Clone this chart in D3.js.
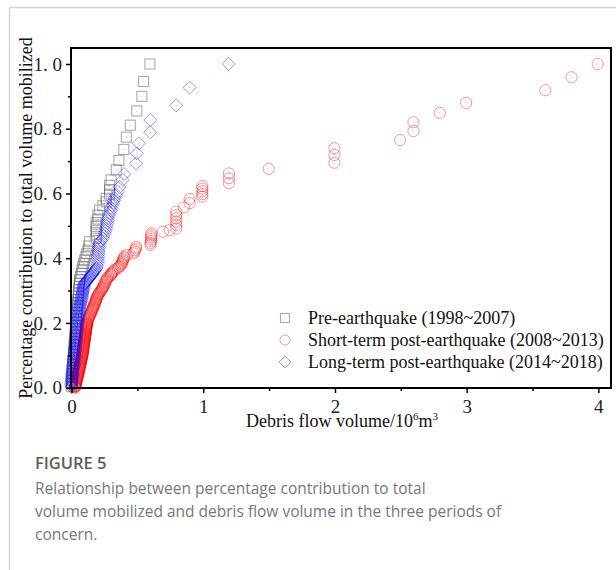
<!DOCTYPE html>
<html><head><meta charset="utf-8">
<script src="https://cdn.jsdelivr.net/npm/d3@7"></script>
<style>
html,body{margin:0;padding:0;background:#fff;}
svg{display:block;}
</style>
</head><body>
<svg id="chart" width="616" height="570"></svg>
<script>
// ---- data: [debris flow volume (10^6 m^3), cumulative share of total volume] ----
const preEarthquake = [
[0.000,0.003],[0.001,0.013],[0.002,0.023],[0.003,0.033],[0.005,0.043],[0.006,0.053],[0.008,0.063],[0.009,0.073],[0.011,0.083],[0.013,0.093],
[0.015,0.103],[0.017,0.113],[0.019,0.123],[0.021,0.133],[0.023,0.143],[0.025,0.153],[0.027,0.163],[0.029,0.173],[0.031,0.183],[0.033,0.193],
[0.035,0.203],[0.037,0.213],[0.039,0.223],[0.041,0.233],[0.043,0.243],[0.045,0.253],[0.047,0.263],[0.049,0.273],[0.051,0.283],[0.053,0.293],
[0.055,0.303],[0.057,0.313],[0.059,0.323],[0.061,0.333],[0.068,0.343],[0.074,0.353],[0.080,0.364],[0.086,0.374],[0.092,0.384],[0.099,0.394],
[0.108,0.404],[0.116,0.414],[0.124,0.425],[0.130,0.438],[0.137,0.451],[0.187,0.462],[0.187,0.474],[0.187,0.486],[0.187,0.498],[0.187,0.510],
[0.200,0.521],[0.200,0.533],[0.213,0.549],[0.238,0.562],[0.263,0.574],[0.263,0.585],[0.289,0.598],[0.289,0.611],[0.289,0.625],[0.300,0.642],
[0.340,0.673],[0.360,0.702],[0.397,0.736],[0.416,0.774],[0.446,0.811],[0.496,0.855],[0.534,0.900],[0.547,0.946],[0.595,1.000]
];
const shortTermPost = [
[0.026,0.000],[0.027,0.002],[0.028,0.004],[0.029,0.006],[0.031,0.008],[0.032,0.010],[0.033,0.012],[0.034,0.014],[0.035,0.016],[0.036,0.018],
[0.038,0.020],[0.039,0.022],[0.040,0.024],[0.041,0.026],[0.042,0.028],[0.043,0.030],[0.045,0.032],[0.046,0.034],[0.047,0.036],[0.048,0.038],
[0.049,0.040],[0.050,0.042],[0.052,0.044],[0.053,0.046],[0.054,0.048],[0.055,0.050],[0.056,0.052],[0.057,0.054],[0.058,0.056],[0.059,0.058],
[0.060,0.060],[0.061,0.062],[0.063,0.064],[0.064,0.066],[0.065,0.068],[0.066,0.070],[0.067,0.072],[0.068,0.074],[0.069,0.076],[0.070,0.078],
[0.071,0.080],[0.072,0.082],[0.073,0.084],[0.074,0.086],[0.076,0.088],[0.077,0.090],[0.078,0.092],[0.079,0.094],[0.080,0.096],[0.081,0.098],
[0.082,0.100],[0.083,0.102],[0.083,0.104],[0.084,0.106],[0.085,0.108],[0.086,0.110],[0.086,0.112],[0.087,0.114],[0.088,0.116],[0.088,0.118],
[0.089,0.120],[0.090,0.122],[0.091,0.124],[0.091,0.126],[0.092,0.128],[0.093,0.130],[0.093,0.132],[0.094,0.134],[0.095,0.136],[0.096,0.138],
[0.096,0.140],[0.097,0.142],[0.098,0.144],[0.098,0.146],[0.099,0.148],[0.100,0.150],[0.101,0.152],[0.101,0.154],[0.102,0.156],[0.103,0.158],
[0.104,0.160],[0.104,0.162],[0.105,0.164],[0.106,0.166],[0.106,0.168],[0.107,0.170],[0.108,0.172],[0.109,0.174],[0.109,0.176],[0.110,0.178],
[0.111,0.180],[0.111,0.182],[0.112,0.184],[0.113,0.186],[0.114,0.188],[0.114,0.190],[0.115,0.192],[0.116,0.194],[0.116,0.196],[0.117,0.198],
[0.118,0.200],[0.120,0.203],[0.122,0.206],[0.125,0.209],[0.128,0.212],[0.130,0.215],[0.133,0.218],[0.136,0.221],[0.140,0.224],[0.143,0.227],
[0.146,0.230],[0.150,0.233],[0.153,0.236],[0.156,0.239],[0.159,0.242],[0.162,0.245],[0.164,0.248],[0.166,0.251],[0.170,0.254],[0.174,0.257],
[0.178,0.260],[0.180,0.263],[0.182,0.266],[0.184,0.269],[0.187,0.272],[0.190,0.275],[0.192,0.278],[0.195,0.281],[0.198,0.284],[0.202,0.287],
[0.207,0.290],[0.212,0.293],[0.218,0.296],[0.223,0.299],[0.228,0.302],[0.232,0.305],[0.236,0.308],[0.240,0.311],[0.245,0.314],[0.250,0.318],
[0.250,0.322],[0.260,0.326],[0.260,0.330],[0.270,0.334],[0.270,0.338],[0.280,0.342],[0.290,0.345],[0.300,0.348],[0.300,0.351],[0.310,0.354],
[0.310,0.357],[0.320,0.361],[0.330,0.365],[0.350,0.369],[0.360,0.373],[0.370,0.377],[0.380,0.381],[0.380,0.385],[0.390,0.389],[0.390,0.393],
[0.390,0.397],[0.400,0.401],[0.400,0.405],[0.420,0.410],[0.470,0.415],[0.480,0.420],[0.480,0.425],[0.490,0.430],[0.490,0.435],[0.600,0.441],
[0.600,0.447],[0.605,0.453],[0.605,0.459],[0.605,0.465],[0.605,0.471],[0.605,0.477],[0.694,0.482],[0.745,0.487],[0.795,0.492],[0.795,0.503],
[0.795,0.513],[0.795,0.523],[0.795,0.533],[0.795,0.544],[0.853,0.557],[0.897,0.570],[0.897,0.583],[0.993,0.590],[0.993,0.598],[0.993,0.607],
[0.993,0.615],[0.993,0.623],[1.195,0.632],[1.195,0.647],[1.195,0.662],[1.497,0.676],[1.996,0.695],[1.996,0.719],[1.996,0.740],[2.495,0.765],
[2.596,0.793],[2.596,0.820],[2.796,0.849],[2.996,0.880],[3.597,0.919],[3.797,0.959],[3.995,1.000]
];
const longTermPost = [
[0.000,0.002],[0.000,0.006],[0.000,0.009],[0.001,0.013],[0.001,0.016],[0.001,0.020],[0.002,0.023],[0.003,0.027],[0.003,0.030],[0.004,0.034],
[0.005,0.037],[0.006,0.041],[0.006,0.044],[0.007,0.048],[0.008,0.051],[0.009,0.055],[0.010,0.058],[0.011,0.062],[0.012,0.065],[0.013,0.069],
[0.014,0.072],[0.015,0.076],[0.016,0.079],[0.017,0.083],[0.018,0.086],[0.019,0.090],[0.020,0.093],[0.021,0.097],[0.022,0.100],[0.023,0.104],
[0.023,0.107],[0.024,0.111],[0.025,0.114],[0.026,0.118],[0.027,0.121],[0.027,0.125],[0.028,0.128],[0.029,0.132],[0.030,0.135],[0.030,0.139],
[0.031,0.142],[0.032,0.146],[0.033,0.149],[0.034,0.153],[0.034,0.156],[0.035,0.160],[0.036,0.163],[0.037,0.167],[0.038,0.170],[0.039,0.174],
[0.039,0.177],[0.040,0.181],[0.041,0.184],[0.042,0.188],[0.043,0.191],[0.044,0.195],[0.045,0.198],[0.046,0.202],[0.047,0.205],[0.048,0.209],
[0.050,0.212],[0.051,0.216],[0.052,0.219],[0.053,0.223],[0.054,0.226],[0.055,0.230],[0.057,0.233],[0.058,0.237],[0.059,0.240],[0.060,0.244],
[0.061,0.247],[0.062,0.251],[0.064,0.254],[0.066,0.258],[0.068,0.261],[0.070,0.265],[0.071,0.268],[0.073,0.2715],[0.075,0.275],[0.077,0.2785],
[0.078,0.282],[0.080,0.2855],[0.081,0.289],[0.083,0.2925],[0.084,0.296],[0.086,0.2995],[0.087,0.303],[0.089,0.3065],[0.091,0.310],[0.093,0.3135],
[0.095,0.317],[0.098,0.3195],[0.100,0.322],[0.105,0.3245],[0.110,0.327],[0.115,0.3295],[0.120,0.332],[0.125,0.3345],[0.130,0.337],[0.135,0.3395],
[0.140,0.342],[0.145,0.3445],[0.150,0.347],[0.155,0.3495],[0.160,0.352],[0.165,0.355],[0.170,0.358],[0.175,0.361],[0.180,0.364],[0.185,0.367],
[0.190,0.370],[0.195,0.377],[0.198,0.384],[0.200,0.391],[0.200,0.398],[0.202,0.405],[0.204,0.412],[0.206,0.419],[0.207,0.426],[0.208,0.433],
[0.209,0.440],[0.210,0.447],[0.225,0.454],[0.238,0.461],[0.245,0.469],[0.252,0.477],[0.258,0.485],
[0.264,0.492],[0.268,0.500],[0.272,0.508],[0.276,0.516],[0.276,0.523],[0.285,0.531],[0.292,0.539],[0.300,0.547],[0.300,0.555],[0.310,0.563],
[0.318,0.571],[0.322,0.578],[0.327,0.585],[0.340,0.595],[0.352,0.605],[0.365,0.620],[0.390,0.642],[0.400,0.660],[0.490,0.693],[0.496,0.724],
[0.511,0.755],[0.598,0.789],[0.598,0.827],[0.795,0.872],[0.897,0.927],[1.193,1.000]
];
const seriesNames = ["Pre-earthquake (1998~2007)", "Short-term post-earthquake (2008~2013)", "Long-term post-earthquake (2014~2018)"];
const xTicks = [0, 1, 2, 3, 4];
const xMinorTicks = [0.5, 1.5, 2.5, 3.5];
const yTicks = [0.0, 0.2, 0.4, 0.6, 0.8, 1.0];
const yMinorTicks = [0.1, 0.3, 0.5, 0.7, 0.9];
const yTitle = "Percentage contribution to total volume mobilized";
const captionHead = "FIGURE 5";
const captionLines = [
  "Relationship between percentage contribution to total",
  "volume mobilized and debris flow volume in the three periods of",
  "concern."
];

// ---- layout ----
const svg = d3.select("#chart");
const box = {left: 71, top: 48, right: 611, bottom: 388};
const x = d3.scaleLinear().domain([-0.004, 4.096]).range([box.left, box.right]);
const y = d3.scaleLinear().domain([-0.001, 1.0494]).range([box.bottom, box.top]);
const serif = "'Liberation Serif','Times New Roman',serif";

// card border
svg.append("path").attr("d", "M9.5,570 V7.5 H616").attr("fill", "none")
   .attr("stroke", "#d4d4d4").attr("stroke-width", 1.5);

// marker symbols
const styles = [
  {color: "#5a5a5a", op: 0.5, shape: "square", w: 1.1},
  {color: "#ff0000", op: 0.42, shape: "circle", w: 1},
  {color: "#0000ff", op: 0.42, shape: "diamond", w: 1}
];
function drawMarker(g, st, size) {
  let el;
  if (st.shape === "square") {
    el = g.append("rect").attr("x", -size.sq/2).attr("y", -size.sq/2).attr("width", size.sq).attr("height", size.sq);
  } else if (st.shape === "circle") {
    el = g.append("circle").attr("r", size.r);
  } else {
    const d = size.d;
    el = g.append("path").attr("d", `M0,${-d}L${d},0L0,${d}L${-d},0Z`);
  }
  el.attr("fill", "none").attr("stroke", st.color).attr("stroke-opacity", st.op).attr("stroke-width", st.w);
  g.append("circle").attr("r", 0.5).attr("fill", st.color).attr("fill-opacity", st.op);
}

const plot = svg.append("g");
[preEarthquake, shortTermPost, longTermPost].forEach((data, i) => {
  const s = styles[i];
  plot.append("g").selectAll("g").data(data).join("g")
    .attr("transform", d => `translate(${x(d[0])},${y(d[1])})`)
    .each(function() { drawMarker(d3.select(this), s, {sq: 10, r: 5.6, d: 6.5}); });
});

// axes
const xAxis = svg.append("g").attr("transform", `translate(0,${box.bottom})`)
  .call(d3.axisBottom(x).tickValues(xTicks).tickSize(5).tickPadding(7).tickFormat(d3.format("d")));
const xMinor = svg.append("g").attr("transform", `translate(0,${box.bottom})`)
  .call(d3.axisBottom(x).tickValues(xMinorTicks).tickSize(3).tickFormat(""));
const yAxis = svg.append("g").attr("transform", `translate(${box.left},0)`)
  .call(d3.axisLeft(y).tickValues(yTicks).tickSize(5).tickPadding(4)
    .tickFormat(d => d3.format(".1f")(d).replace(".", ". ")));
const yMinor = svg.append("g").attr("transform", `translate(${box.left},0)`)
  .call(d3.axisLeft(y).tickValues(yMinorTicks).tickSize(3).tickFormat(""));
[xAxis, xMinor, yAxis, yMinor].forEach(a => {
  a.select(".domain").remove();
  a.selectAll(".tick line").attr("stroke", "#000").attr("stroke-width", 1.5);
  a.selectAll("text").attr("font-family", serif).attr("font-size", 19).attr("fill", "#222");
});
xAxis.selectAll("text").attr("dy", "0.69em");

// plot frame
svg.append("rect").attr("x", box.left).attr("y", box.top)
  .attr("width", box.right - box.left).attr("height", box.bottom - box.top)
  .attr("fill", "none").attr("stroke", "#000").attr("stroke-width", 2);

// axis titles
const xt = svg.append("text").attr("x", (box.left + box.right) / 2 + 1).attr("y", 427)
  .attr("text-anchor", "middle").attr("font-family", serif).attr("font-size", 18).attr("fill", "#111");
xt.append("tspan").text("Debris flow volume/10");
xt.append("tspan").attr("font-size", 11).attr("dy", -7).text("6");
xt.append("tspan").attr("dy", 7).text("m");
xt.append("tspan").attr("font-size", 11).attr("dy", -7).text("3");

svg.append("text").attr("transform", "translate(32,218) rotate(-90)")
  .attr("text-anchor", "middle").attr("font-family", serif).attr("font-size", 18).attr("fill", "#111")
  .text(yTitle);

// legend
const legend = svg.append("g");
seriesNames.forEach((name, i) => {
  const ly = 318 + i * 22;
  const g = legend.append("g").attr("transform", `translate(285,${ly})`);
  drawMarker(g, styles[i], {sq: 9, r: 5, d: 6});
  legend.append("text").attr("x", 308).attr("y", ly + 6).attr("font-family", serif)
    .attr("font-size", 18).attr("fill", "#111").text(name);
});

// caption
const sans = "'Open Sans','Noto Sans',sans-serif";
svg.append("text").attr("x", 35).attr("y", 469).attr("font-family", sans).attr("font-size", 16.5)
  .attr("font-weight", 600).attr("fill", "#5c5c5c").text(captionHead);
captionLines.forEach((t, i) => {
  svg.append("text").attr("x", 35).attr("y", 494 + i * 23).attr("font-family", sans)
    .attr("font-size", 15.5).attr("fill", "#777").text(t);
});
</script>
</body></html>
